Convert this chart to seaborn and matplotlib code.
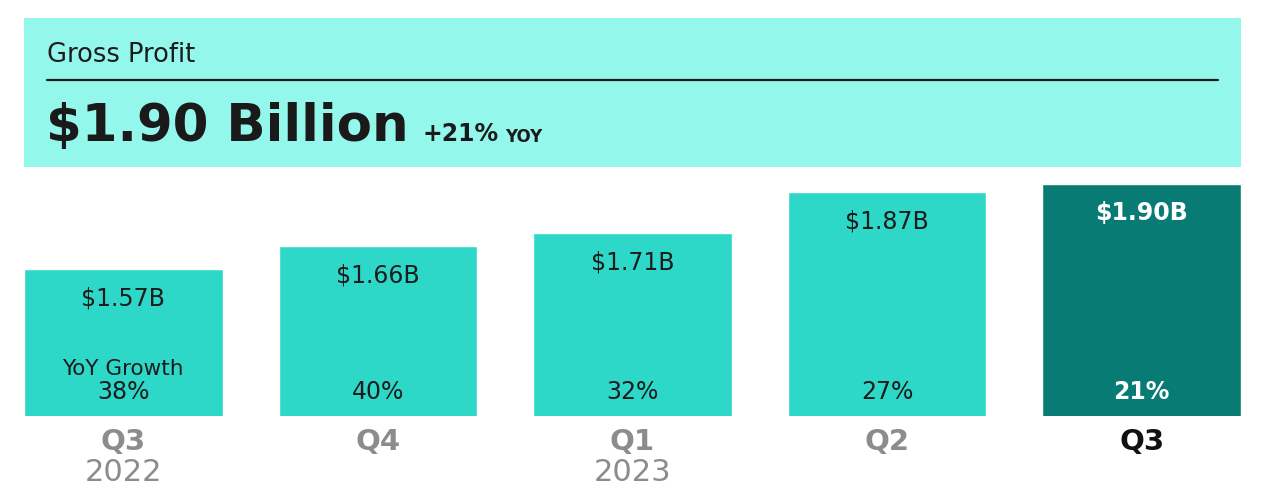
import matplotlib
matplotlib.use("Agg")
import matplotlib.pyplot as plt
import seaborn as sns
from matplotlib.patches import Rectangle

# ---- data ----
categories = ["Q3 2022", "Q4 2022", "Q1 2023", "Q2 2023", "Q3 2023"]
quarter_labels = ["Q3", "Q4", "Q1", "Q2", "Q3"]
year_labels = ["2022", "", "2023", "", ""]
gross_profit = [1.57, 1.66, 1.71, 1.87, 1.90]
value_labels = ["$1.57B", "$1.66B", "$1.71B", "$1.87B", "$1.90B"]
yoy_growth = ["38%", "40%", "32%", "27%", "21%"]
headline = "$1.90 Billion"
headline_growth = "+21%"

LIGHT = "#2ED8C9"
DARK = "#087C74"
HEADER = "#94F7EC"
palette = [LIGHT, LIGHT, LIGHT, LIGHT, DARK]

sns.set_theme(style="white")
plt.rcParams["font.family"] = ["DejaVu Sans"]

W, H = 1280, 500
fig = plt.figure(figsize=(W / 100, H / 100), dpi=100)
fig.patch.set_facecolor("white")

def fx(px):
    return px / W

def fy(py):
    return 1 - py / H

# header box
fig.patches.append(Rectangle((fx(24), fy(167)), fx(1241) - fx(24), fy(18) - fy(167),
                             transform=fig.transFigure, facecolor=HEADER, edgecolor="none", zorder=0))
fig.add_artist(plt.Line2D([fx(47), fx(1218)], [fy(80), fy(80)], transform=fig.transFigure,
                          color="#1c1c1c", lw=1.6))
fig.text(fx(47), fy(55), "Gross Profit", fontsize=18.5, color="#1c1c1c", va="center", ha="left")
t = fig.text(fx(46), fy(127), headline, fontsize=37, fontweight="bold", color="#1a1a1a",
             va="center", ha="left")
fig.canvas.draw()
bb = t.get_window_extent()
x_after = bb.x1 / W + 0.011
t2 = fig.text(x_after, fy(134), headline_growth, fontsize=17, fontweight="bold", color="#1a1a1a",
              va="center", ha="left")
fig.canvas.draw()
bb2 = t2.get_window_extent()
fig.text(bb2.x1 / W + 0.005, fy(137), "YOY", fontsize=12, fontweight="bold", color="#1a1a1a",
         va="center", ha="left")

# bar axes
top_px, bot_px = 175, 416
ax = fig.add_axes([fx(24), fy(bot_px), fx(1241) - fx(24), (bot_px - top_px) / H])
sns.barplot(x=categories, y=gross_profit, hue=categories, palette=palette, legend=False,
            width=0.78, saturation=1, ax=ax)
scale = 257.6  # px per unit
ax.set_ylim(1.0, 1.0 + (bot_px - top_px) / scale)
ax.set_xlim(-0.39, 4.39)
ax.axis("off")

for i, (v, lab, g) in enumerate(zip(gross_profit, value_labels, yoy_growth)):
    last = i == len(gross_profit) - 1
    col = "white" if last else "#1c1c1c"
    wt = "bold" if last else "normal"
    ax.annotate(lab, (i, v), xytext=(0, -21), textcoords="offset points", ha="center", va="center",
                fontsize=17, color=col, fontweight=wt)
    ax.annotate(g, (i, 1.0), xytext=(0, 17), textcoords="offset points", ha="center", va="center",
                fontsize=17, color=col, fontweight=wt)
    qcol = "#111111" if last else "#8c8c8c"
    ax.annotate(quarter_labels[i], (i, 0), xycoords=("data", "axes fraction"), xytext=(0, -19),
                textcoords="offset points", ha="center", va="center", fontsize=21,
                fontweight="bold", color=qcol, annotation_clip=False)
    if year_labels[i]:
        ax.annotate(year_labels[i], (i, 0), xycoords=("data", "axes fraction"), xytext=(0, -41),
                    textcoords="offset points", ha="center", va="center", fontsize=22,
                    color="#8c8c8c", annotation_clip=False)

ax.annotate("YoY Growth", (0, 1.0), xytext=(0, 34), textcoords="offset points", ha="center",
            va="center", fontsize=15.5, color="#1c1c1c")

fig.savefig("out.png", dpi=100, facecolor="white")
